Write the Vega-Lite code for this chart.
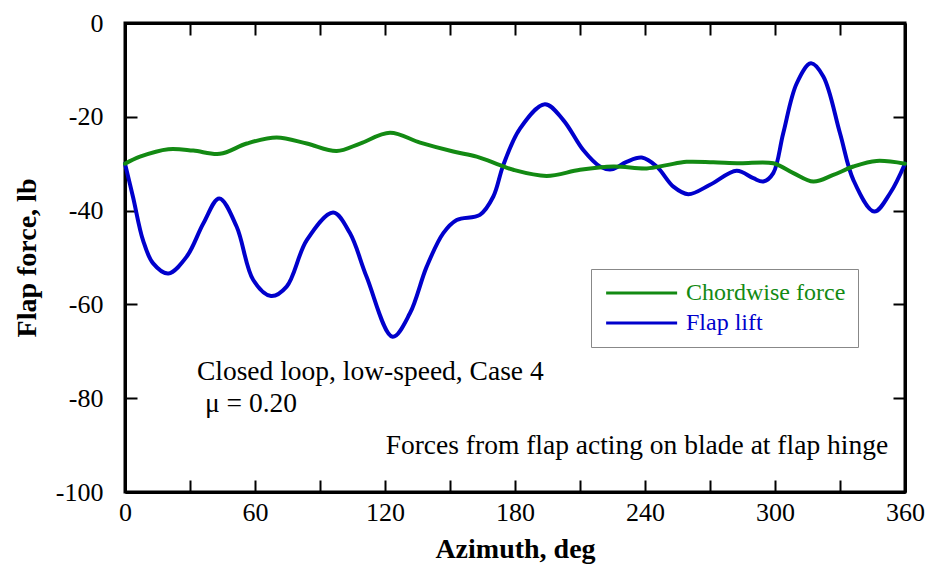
{
  "$schema": "https://vega.github.io/schema/vega-lite/v6.json",
  "width": 780,
  "height": 469,
  "autosize": {"type": "none"},
  "padding": {"left": 125, "top": 23, "right": 25, "bottom": 75},
  "background": "white",
  "config": {
    "font": "Liberation Serif",
    "view": {"stroke": "black", "strokeWidth": 3},
    "axis": {
      "grid": false,
      "domainColor": "black",
      "domainWidth": 3,
      "tickColor": "black",
      "tickWidth": 2,
      "tickSize": -12,
      "labelFont": "Liberation Serif",
      "labelFontSize": 26,
      "labelColor": "black",
      "titleFont": "Liberation Serif",
      "titleFontSize": 28,
      "titleFontWeight": "bold",
      "titleColor": "black"
    }
  },
  "datasets": {
    "curves": [
      {"azimuth": 0, "force": -30, "series": "Flap lift"},
      {"azimuth": 3.7, "force": -37.1, "series": "Flap lift"},
      {"azimuth": 8.3, "force": -46.3, "series": "Flap lift"},
      {"azimuth": 12.9, "force": -51.2, "series": "Flap lift"},
      {"azimuth": 20, "force": -53.4, "series": "Flap lift"},
      {"azimuth": 28.5, "force": -49.8, "series": "Flap lift"},
      {"azimuth": 36.2, "force": -42.7, "series": "Flap lift"},
      {"azimuth": 43.5, "force": -37.4, "series": "Flap lift"},
      {"azimuth": 51.5, "force": -43.4, "series": "Flap lift"},
      {"azimuth": 59.2, "force": -54.8, "series": "Flap lift"},
      {"azimuth": 67.4, "force": -58.2, "series": "Flap lift"},
      {"azimuth": 74.6, "force": -56.2, "series": "Flap lift"},
      {"azimuth": 83.9, "force": -46.3, "series": "Flap lift"},
      {"azimuth": 96.1, "force": -40.4, "series": "Flap lift"},
      {"azimuth": 103.8, "force": -44.8, "series": "Flap lift"},
      {"azimuth": 111.5, "force": -54.1, "series": "Flap lift"},
      {"azimuth": 123.5, "force": -66.9, "series": "Flap lift"},
      {"azimuth": 131.5, "force": -61.9, "series": "Flap lift"},
      {"azimuth": 139.2, "force": -52.0, "series": "Flap lift"},
      {"azimuth": 146.9, "force": -44.8, "series": "Flap lift"},
      {"azimuth": 153.1, "force": -42.0, "series": "Flap lift"},
      {"azimuth": 163.8, "force": -40.9, "series": "Flap lift"},
      {"azimuth": 170, "force": -37, "series": "Flap lift"},
      {"azimuth": 174.6, "force": -30.3, "series": "Flap lift"},
      {"azimuth": 182.3, "force": -22.5, "series": "Flap lift"},
      {"azimuth": 193.8, "force": -17.3, "series": "Flap lift"},
      {"azimuth": 202.3, "force": -20.7, "series": "Flap lift"},
      {"azimuth": 211.5, "force": -27.1, "series": "Flap lift"},
      {"azimuth": 219.2, "force": -30.6, "series": "Flap lift"},
      {"azimuth": 224.6, "force": -31.2, "series": "Flap lift"},
      {"azimuth": 231.5, "force": -29.6, "series": "Flap lift"},
      {"azimuth": 238.5, "force": -28.7, "series": "Flap lift"},
      {"azimuth": 245.4, "force": -30.6, "series": "Flap lift"},
      {"azimuth": 253.1, "force": -34.9, "series": "Flap lift"},
      {"azimuth": 260, "force": -36.5, "series": "Flap lift"},
      {"azimuth": 270, "force": -34.5, "series": "Flap lift"},
      {"azimuth": 282.3, "force": -31.5, "series": "Flap lift"},
      {"azimuth": 290, "force": -33.1, "series": "Flap lift"},
      {"azimuth": 294.6, "force": -33.8, "series": "Flap lift"},
      {"azimuth": 299.2, "force": -32.0, "series": "Flap lift"},
      {"azimuth": 303.8, "force": -23.5, "series": "Flap lift"},
      {"azimuth": 310, "force": -12.9, "series": "Flap lift"},
      {"azimuth": 316.6, "force": -8.6, "series": "Flap lift"},
      {"azimuth": 322.3, "force": -11.4, "series": "Flap lift"},
      {"azimuth": 330, "force": -23.5, "series": "Flap lift"},
      {"azimuth": 336.2, "force": -33.5, "series": "Flap lift"},
      {"azimuth": 345.8, "force": -40.2, "series": "Flap lift"},
      {"azimuth": 353.1, "force": -36.3, "series": "Flap lift"},
      {"azimuth": 360, "force": -30, "series": "Flap lift"},
      {"azimuth": 0, "force": -30, "series": "Chordwise force"},
      {"azimuth": 6.9, "force": -28.5, "series": "Chordwise force"},
      {"azimuth": 20, "force": -26.9, "series": "Chordwise force"},
      {"azimuth": 31.5, "force": -27.2, "series": "Chordwise force"},
      {"azimuth": 43.8, "force": -27.9, "series": "Chordwise force"},
      {"azimuth": 56.2, "force": -25.7, "series": "Chordwise force"},
      {"azimuth": 70, "force": -24.4, "series": "Chordwise force"},
      {"azimuth": 83.9, "force": -25.7, "series": "Chordwise force"},
      {"azimuth": 97.7, "force": -27.3, "series": "Chordwise force"},
      {"azimuth": 108.5, "force": -25.7, "series": "Chordwise force"},
      {"azimuth": 122.3, "force": -23.4, "series": "Chordwise force"},
      {"azimuth": 136.2, "force": -25.5, "series": "Chordwise force"},
      {"azimuth": 151.5, "force": -27.4, "series": "Chordwise force"},
      {"azimuth": 162.3, "force": -28.5, "series": "Chordwise force"},
      {"azimuth": 173.1, "force": -30.3, "series": "Chordwise force"},
      {"azimuth": 179.2, "force": -31.3, "series": "Chordwise force"},
      {"azimuth": 194.6, "force": -32.6, "series": "Chordwise force"},
      {"azimuth": 210, "force": -31.3, "series": "Chordwise force"},
      {"azimuth": 225.4, "force": -30.6, "series": "Chordwise force"},
      {"azimuth": 240.8, "force": -31.0, "series": "Chordwise force"},
      {"azimuth": 250, "force": -30.3, "series": "Chordwise force"},
      {"azimuth": 259.2, "force": -29.6, "series": "Chordwise force"},
      {"azimuth": 271.5, "force": -29.7, "series": "Chordwise force"},
      {"azimuth": 283.8, "force": -29.9, "series": "Chordwise force"},
      {"azimuth": 299.2, "force": -29.9, "series": "Chordwise force"},
      {"azimuth": 308.5, "force": -32.0, "series": "Chordwise force"},
      {"azimuth": 317.7, "force": -33.8, "series": "Chordwise force"},
      {"azimuth": 326.9, "force": -32.4, "series": "Chordwise force"},
      {"azimuth": 336.2, "force": -30.6, "series": "Chordwise force"},
      {"azimuth": 346.9, "force": -29.4, "series": "Chordwise force"},
      {"azimuth": 360, "force": -30, "series": "Chordwise force"}
    ],
    "notesLeft": [
      {"azimuth": 33.2, "force": -76.1, "note": "Closed loop, low-speed, Case 4"},
      {"azimuth": 36.9, "force": -82.9, "note": "μ = 0.20"}
    ],
    "notesRight": [
      {"azimuth": 352.2, "force": -91.9, "note": "Forces from flap acting on blade at flap hinge"}
    ]
  },
  "resolve": {"axis": {"x": "independent", "y": "independent"}},
  "layer": [
    {
      "data": {"name": "curves"},
      "mark": {"type": "line", "interpolate": "catmull-rom", "strokeWidth": 4, "strokeJoin": "round", "strokeCap": "round"},
      "encoding": {
        "x": {
          "field": "azimuth", "type": "quantitative",
          "scale": {"domain": [0, 360], "nice": false, "zero": false},
          "axis": {
            "title": "Azimuth, deg",
            "orient": "bottom",
            "values": [0, 30, 60, 90, 120, 150, 180, 210, 240, 270, 300, 330, 360],
            "labelExpr": "datum.value % 60 === 0 ? '' + datum.value : ''",
            "labelPadding": 19,
            "labelFlush": false,
            "titlePadding": 10
          }
        },
        "y": {
          "field": "force", "type": "quantitative",
          "scale": {"domain": [-100, 0], "nice": false},
          "axis": {
            "title": "Flap force, lb",
            "orient": "left",
            "values": [-100, -80, -60, -40, -20, 0],
            "labelExpr": "'' + datum.value",
            "labelPadding": 34,
            "labelFlush": false,
            "titlePadding": 14
          }
        },
        "color": {
          "field": "series", "type": "nominal",
          "scale": {"domain": ["Chordwise force", "Flap lift"], "range": ["#138a13", "#0000cc"]},
          "legend": {
            "title": null,
            "orient": "none",
            "legendX": 466,
            "legendY": 246,
            "symbolType": "M-1,0H7",
            "symbolSize": 315,
            "symbolStrokeWidth": 3,
            "labelFont": "Liberation Serif",
            "labelFontSize": 24,
            "labelLimit": 400,
            "labelOffset": 59,
            "strokeColor": "#888888",
            "fillColor": "white",
            "padding": 12,
            "rowPadding": 6,
            "encode": {
              "labels": {
                "update": {
                  "fill": {"signal": "datum.label === 'Flap lift' ? '#0000cc' : '#138a13'"}
                }
              }
            }
          }
        }
      }
    },
    {
      "data": {"name": "curves"},
      "mark": {"type": "line", "strokeOpacity": 0},
      "encoding": {
        "x": {
          "field": "azimuth", "type": "quantitative",
          "axis": {
            "orient": "top", "title": null, "labels": false,
            "values": [0, 30, 60, 90, 120, 150, 180, 210, 240, 270, 300, 330, 360]
          }
        },
        "y": {
          "field": "force", "type": "quantitative",
          "axis": {
            "orient": "right", "title": null, "labels": false,
            "values": [-100, -80, -60, -40, -20, 0]
          }
        },
        "detail": {"field": "series"}
      }
    },
    {
      "data": {"name": "notesLeft"},
      "mark": {"type": "text", "align": "left", "baseline": "alphabetic", "fontSize": 27.5, "font": "Liberation Serif", "color": "black"},
      "encoding": {
        "x": {"field": "azimuth", "type": "quantitative", "axis": null},
        "y": {"field": "force", "type": "quantitative", "axis": null},
        "text": {"field": "note"}
      }
    },
    {
      "data": {"name": "notesRight"},
      "mark": {"type": "text", "align": "right", "baseline": "alphabetic", "fontSize": 27.5, "font": "Liberation Serif", "color": "black"},
      "encoding": {
        "x": {"field": "azimuth", "type": "quantitative", "axis": null},
        "y": {"field": "force", "type": "quantitative", "axis": null},
        "text": {"field": "note"}
      }
    }
  ]
}
